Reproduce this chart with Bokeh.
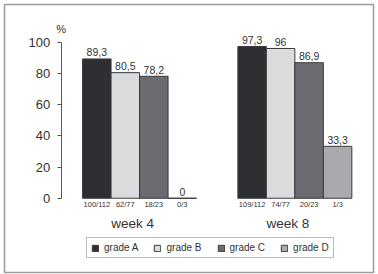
from bokeh.plotting import figure
from bokeh.models import (LinearAxis, FixedTicker, Range1d, ColumnDataSource,
                          Legend, LegendItem)
from bokeh.core.properties import value
from bokeh.embed import file_html
from bokeh.resources import INLINE

# Response rates (%) per grade, at week 4 and week 8
weeks = ["week 4", "week 8"]
grades = ["grade A", "grade B", "grade C", "grade D"]
pct_week4 = [89.3, 80.5, 78.2, 0]
pct_week8 = [97.3, 96, 86.9, 33.3]
counts_week4 = ["100/112", "62/77", "18/23", "0/3"]
counts_week8 = ["109/112", "74/77", "20/23", "1/3"]
y_ticks = [0, 20, 40, 60, 80, 100]

fills = ["#2e2f33", "#d9dbdd", "#6b6b71", "#aaaaae"]
FONT = value("Liberation Sans")

# left edge of each week's group of bars, in bar widths from the y axis
group_left = [0.75, 6.2]

p = figure(width=378, height=274, output_backend="svg", toolbar_location=None,
           x_axis_location=None, y_axis_location=None,
           x_range=Range1d(-1.99, 10.96), y_range=Range1d(-47.6, 124.2),
           min_border_left=4, min_border_right=5, min_border_top=4,
           min_border_bottom=2)
p.outline_line_color = "#9a9a9a"
p.outline_line_width = 1.5
p.background_fill_color = "white"
p.border_fill_color = "white"
p.grid.visible = False

def fmt(v):
    return f"{v:g}".replace(".", ",")

series = [pct_week4, pct_week8]
counts = [counts_week4, counts_week8]

items = []
for gi, grade in enumerate(grades):
    xs = [group_left[w] + gi + 0.5 for w in range(len(weeks))]
    tops = [series[w][gi] for w in range(len(weeks))]
    src = ColumnDataSource(dict(
        x=xs, top=tops,
        lab=[fmt(t) for t in tops],
        cnt=[counts[w][gi] for w in range(len(weeks))],
    ))
    r = p.vbar(x="x", top="top", bottom=0, width=1, source=src,
               fill_color=fills[gi], line_color="#3a3a3a", line_width=1)
    items.append(LegendItem(label=grade, renderers=[r]))
    p.text(x="x", y="top", text="lab", source=src, text_font=FONT,
           text_font_size="10.5px", text_color="#333333", text_align="center",
           text_baseline="alphabetic", y_offset=-6.5)
    p.text(x="x", y=0, text="cnt", source=src, text_font=FONT,
           text_font_size="7.5px", text_color="#333333", text_align="center",
           text_baseline="top", y_offset=2)

# week captions under each group
wsrc = ColumnDataSource(dict(x=[g + 2 for g in group_left], t=weeks))
p.text(x="x", y=0, text="t", source=wsrc, text_font=FONT,
       text_font_size="13.5px", text_color="#333333", text_align="center",
       text_baseline="alphabetic", x_offset=-7, y_offset=25.5)

# unit label above the axis
p.text(x=[0], y=[100], text=["%"], text_font=FONT, text_font_size="11px",
       text_color="#333333", text_align="center", text_baseline="alphabetic",
       y_offset=-13)

yaxis = LinearAxis(fixed_location=0, bounds=(0, 100),
                   ticker=FixedTicker(ticks=y_ticks))
yaxis.axis_line_color = "#555555"
yaxis.major_tick_line_color = "#555555"
yaxis.major_tick_out = 4
yaxis.major_tick_in = 0
yaxis.minor_tick_line_color = None
yaxis.major_label_text_font = "Liberation Sans"
yaxis.major_label_text_font_size = "13px"
yaxis.major_label_text_color = "#333333"
yaxis.major_label_standoff = 7
p.add_layout(yaxis, "left")

legend = Legend(items=items, orientation="horizontal", location=(82, 14),
                padding=4, spacing=15, label_standoff=5,
                glyph_width=8, glyph_height=8, label_height=8,
                label_text_font="Liberation Sans", label_text_font_size="10px",
                label_text_color="#333333",
                border_line_color="#777777", border_line_width=1,
                background_fill_color="white", background_fill_alpha=1,
                margin=0)
p.add_layout(legend, "center")

open("out.html", "w").write(file_html(p, INLINE))
